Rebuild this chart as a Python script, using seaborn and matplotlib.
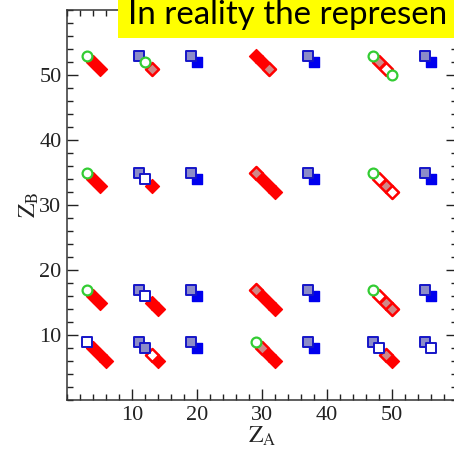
import matplotlib
matplotlib.use("Agg")
import matplotlib.pyplot as plt
from matplotlib.ticker import MultipleLocator
from matplotlib.patches import Rectangle
import seaborn as sns

# ---------------- DATA ----------------
# red diamonds, solid
red_x = [4, 5, 29, 30,
         4, 5, 13, 30, 31, 32,
         4, 5, 13, 14, 30, 31, 32,
         4, 5, 6, 14, 31, 32, 50]
red_y = [52, 51, 53, 52,
         34, 33, 33, 34, 33, 32,
         16, 15, 15, 14, 16, 15, 14,
         8, 7, 6, 6, 7, 6, 6]

# red diamonds, grey fill
red_grey_x = [13, 31, 48, 29, 49, 29, 49, 50, 30, 49]
red_grey_y = [51, 51, 52, 35, 33, 17, 15, 14, 8, 7]

# red diamonds, open
red_open_x = [49, 48, 50, 48, 13]
red_open_y = [51, 34, 32, 16, 7]

# blue squares, grey fill
blue_grey_x = [11, 19, 37, 55, 11, 19, 37, 55, 11, 19, 37, 55, 11, 12, 19, 37, 47, 55]
blue_grey_y = [53, 53, 53, 53, 35, 35, 35, 35, 17, 17, 17, 17, 9, 8, 9, 9, 9, 9]

# blue squares, solid
blue_x = [20, 38, 56, 20, 38, 56, 20, 38, 56, 20, 38]
blue_y = [52, 52, 52, 34, 34, 34, 16, 16, 16, 8, 8]

# blue squares, open
blue_open_x = [12, 12, 3, 48, 56]
blue_open_y = [34, 16, 9, 8, 8]

# green circles
green_x = [3, 12, 47, 50, 3, 47, 3, 47, 29]
green_y = [53, 52, 53, 50, 35, 35, 17, 17, 9]

x_ticks = [10, 20, 30, 40, 50]
y_ticks = [10, 20, 30, 40, 50]
banner = "In reality the represen"
# ---------------------------------------

sns.set_style("ticks")
plt.rcParams["font.family"] = ["Liberation Serif", "DejaVu Serif"]
plt.rcParams["mathtext.fontset"] = "stix"

fig = plt.figure(figsize=(4.54, 4.51), dpi=100)
ax = fig.add_axes([67 / 454, 51 / 451, 390 / 454, 390 / 451])

RED = "#ff0000"
BLUE = "#0000ee"

# x, y, marker, face, edge, linewidth, size, zorder
groups = [
    (red_x, red_y, "D", RED, RED, 1.0, 50, 2),
    (red_grey_x, red_grey_y, "D", "#d08888", RED, 1.8, 44, 2),
    (red_open_x, red_open_y, "D", "white", RED, 1.8, 44, 2),
    (blue_x, blue_y, "s", BLUE, BLUE, 1.0, 50, 3),
    (blue_grey_x, blue_grey_y, "s", "#8c8cc8", "#1515c8", 1.4, 46, 3),
    (blue_open_x, blue_open_y, "s", "white", "#1515c8", 1.4, 46, 3),
    (green_x, green_y, "o", "white", "#33cc33", 1.6, 50, 4),
]
for xs, ys, mk, fc, ec, lw, s, z in groups:
    sns.scatterplot(x=xs, y=ys, marker=mk, s=s, color=fc,
                    edgecolor=ec, linewidth=lw, zorder=z, ax=ax, clip_on=False)

ax.set_xlim(0, 60)
ax.set_ylim(0, 60)
ax.set_xticks(x_ticks)
ax.set_yticks(y_ticks)
ax.xaxis.set_minor_locator(MultipleLocator(2))
ax.yaxis.set_minor_locator(MultipleLocator(2))
ax.tick_params(which="both", direction="in", top=True, right=True,
               colors="#222222", labelcolor="#222222", labelsize=16)
ax.tick_params(which="major", length=8, width=1.0, pad=4)
ax.tick_params(which="minor", length=4.5, width=1.0)
for sp in ax.spines.values():
    sp.set_linewidth(1.1)
    sp.set_color("#333333")

ax.set_xlabel(r"$\mathrm{Z}_{\mathrm{A}}$", fontsize=17, labelpad=0, color="#222222")
ax.set_ylabel(r"$\mathrm{Z}_{\mathrm{B}}$", fontsize=17, labelpad=-1, color="#222222")

# yellow banner over the top
fig.patches.append(Rectangle((118 / 454, 1 - 38 / 451), 1, 38 / 451,
                             transform=fig.transFigure, facecolor="#ffff00",
                             edgecolor="none", zorder=5))
fig.text(128 / 454, 1 - 24 / 451, banner, fontsize=23.8, family="Lato",
         color="black", zorder=6)

fig.savefig("out.png", dpi=100)
